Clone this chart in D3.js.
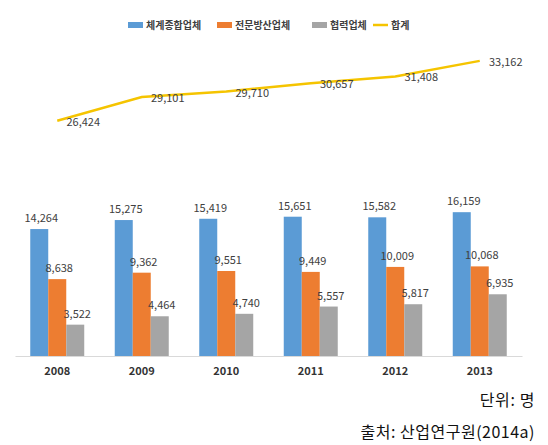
<!DOCTYPE html>
<html><head><meta charset="utf-8">
<script src="https://cdn.jsdelivr.net/npm/d3@7"></script>
<style>
html,body{margin:0;padding:0;background:#fff;}
svg{display:block;}
</style>
</head><body>
<svg id="c" width="548" height="445"></svg>
<script>
const years = ["2008","2009","2010","2011","2012","2013"];
const seriesNames = ["체계종합업체","전문방산업체","협력업체"];
const systemVals = [14264,15275,15419,15651,15582,16159];
const specialVals = [8638,9362,9551,9449,10009,10068];
const partnerVals = [3522,4464,4740,5557,5817,6935];
const totalName = "합계";
const totalVals = [26424,29101,29710,30657,31408,33162];
const colors = ["#5B9BD5","#ED7D31","#A5A5A5"];
const lineColor = "#F5C400";
const unitText = "단위: 명";
const sourceText = "출처: 산업연구원(2014a)";

const series = [systemVals, specialVals, partnerVals];
const svg = d3.select("#c");
const font = "'Noto Sans CJK KR','Noto Sans',sans-serif";

const x = d3.scaleBand().domain(years).range([15,522]).paddingInner(0.361).paddingOuter(0.1805);
const xs = d3.scaleBand().domain(d3.range(series.length)).range([0,x.bandwidth()]);
const y = d3.scaleLinear().domain([0,35000]).range([356,44.5]);
const fmt = d3.format(",");

// baseline axis
const ax = svg.append("g").attr("transform","translate(0,356)")
  .call(d3.axisBottom(x).tickSize(0).tickPadding(11));
ax.select(".domain").attr("stroke","#D9D9D9").attr("stroke-width",1);
ax.selectAll("text").attr("font-family",font).attr("font-size",11).attr("font-weight","bold").attr("fill","#333");

// bars
const g = svg.append("g");
series.forEach((vals,si)=>{
  g.selectAll(null).data(vals).join("rect")
    .attr("x",(d,i)=>x(years[i])+xs(si))
    .attr("y",d=>y(d))
    .attr("width",xs.bandwidth())
    .attr("height",d=>y(0)-y(d))
    .attr("fill",colors[si]);
  g.selectAll(null).data(vals).join("text")
    .attr("x",(d,i)=>x(years[i])+xs(si)+xs.bandwidth()/2+2)
    .attr("y",d=>y(d)-7)
    .attr("text-anchor","middle")
    .attr("font-family",font).attr("font-size",11).attr("fill","#404040")
    .text(d=>fmt(d));
});

// total line
const cx = i=>x(years[i])+x.bandwidth()/2;
const line = d3.line().x((d,i)=>cx(i)).y(d=>y(d));
svg.append("path").datum(totalVals).attr("d",line)
  .attr("fill","none").attr("stroke",lineColor).attr("stroke-width",2.5);
svg.selectAll(null).data(totalVals).join("text")
  .attr("x",(d,i)=>cx(i)+26)
  .attr("y",d=>y(d)+5)
  .attr("text-anchor","middle")
  .attr("font-family",font).attr("font-size",11).attr("fill","#404040")
  .text(d=>fmt(d));

// legend
const lg = svg.append("g").attr("font-family",font).attr("font-size",10).attr("font-weight","bold").attr("fill","#404040");
const legendX = [128,217,312];
seriesNames.forEach((n,i)=>{
  lg.append("rect").attr("x",legendX[i]).attr("y",22).attr("width",15).attr("height",6).attr("fill",colors[i]);
  lg.append("text").attr("x",legendX[i]+18).attr("y",29).text(n);
});
lg.append("line").attr("x1",373).attr("x2",388).attr("y1",25).attr("y2",25).attr("stroke",lineColor).attr("stroke-width",2.5);
lg.append("text").attr("x",391).attr("y",29).text(totalName);

// notes
svg.append("text").attr("x",535).attr("y",406).attr("text-anchor","end")
  .attr("font-family",font).attr("font-size",16).attr("letter-spacing",0.6).attr("fill","#111").text(unitText);
svg.append("text").attr("x",535).attr("y",438).attr("text-anchor","end")
  .attr("font-family",font).attr("font-size",16).attr("letter-spacing",0.5).attr("fill","#111").text(sourceText);
</script>
</body></html>
